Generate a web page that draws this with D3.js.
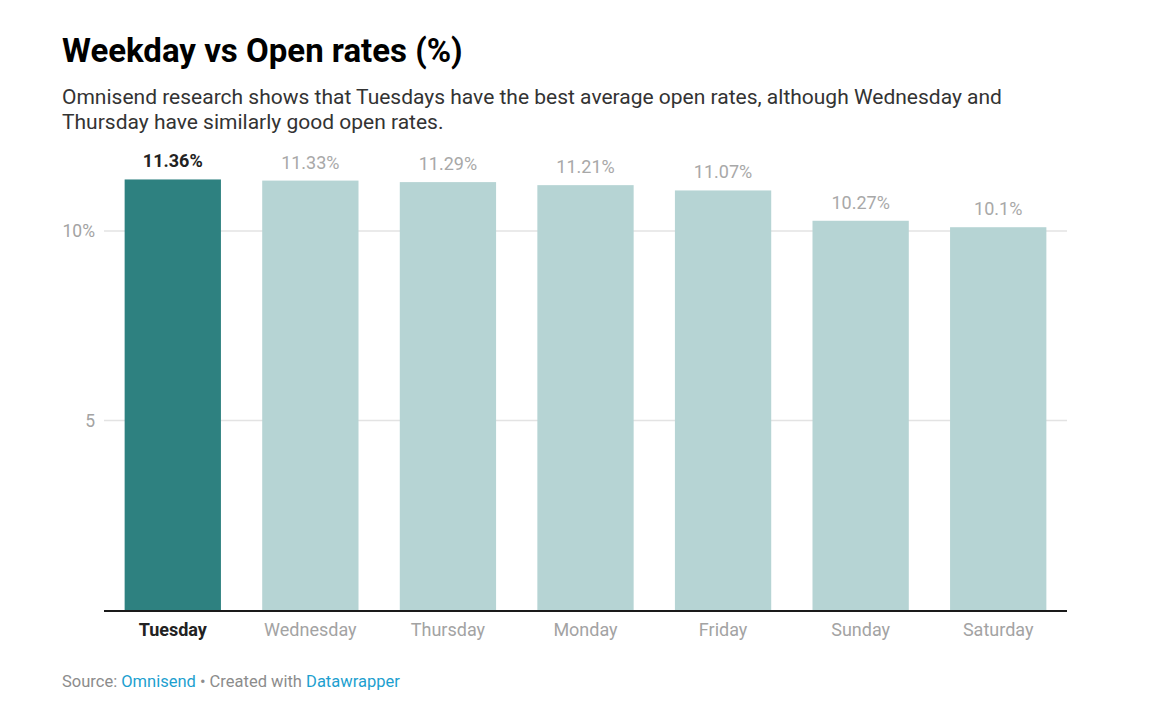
<!DOCTYPE html>
<html>
<head>
<meta charset="utf-8">
<script src="https://cdn.jsdelivr.net/npm/d3@7"></script>
<style>
  body { margin: 0; background: #fff; font-family: Roboto, "Noto Sans", sans-serif; }
</style>
</head>
<body>
<div id="chart"></div>
<script>
// data
const days = ["Tuesday", "Wednesday", "Thursday", "Monday", "Friday", "Sunday", "Saturday"];
const openRates = [11.36, 11.33, 11.29, 11.21, 11.07, 10.27, 10.1];
const highlight = "Tuesday";
const yTicks = [5, 10];

const width = 1149, height = 717;
const margin = { left: 104, right: 82, top: 231, bottom: 107 };

const svg = d3.select("#chart")
  .append("svg")
  .attr("width", width)
  .attr("height", height);

// header
svg.append("text")
  .attr("x", 62).attr("y", 62)
  .style("font-size", "33px").style("font-weight", 700).style("fill", "#000")
  .text("Weekday vs Open rates (%)");

const subLines = [
  "Omnisend research shows that Tuesdays have the best average open rates, although Wednesday and",
  "Thursday have similarly good open rates."
];
svg.append("g").selectAll("text")
  .data(subLines)
  .enter().append("text")
  .attr("x", 62)
  .attr("y", (d, i) => 104 + i * 25)
  .style("font-size", "21px").style("fill", "#333")
  .text(d => d);

// scales
const x = d3.scaleBand()
  .domain(days)
  .range([margin.left, width - margin.right])
  .paddingInner(0.3)
  .paddingOuter(0.15);

const y = d3.scaleLinear()
  .domain([0, 10])
  .range([height - margin.bottom, margin.top]);

// grid
svg.append("g").selectAll("line")
  .data(yTicks)
  .enter().append("line")
  .attr("x1", margin.left).attr("x2", width - margin.right)
  .attr("y1", d => y(d)).attr("y2", d => y(d))
  .style("stroke", "#e3e3e3").style("stroke-width", 1.5);

svg.append("g").selectAll("text")
  .data(yTicks)
  .enter().append("text")
  .attr("x", 95)
  .attr("y", d => y(d))
  .attr("dy", "0.35em")
  .attr("text-anchor", "end")
  .style("font-size", "17.5px").style("fill", "#a3a3a3")
  .text(d => d === 10 ? d + "%" : d);

const rows = days.map((d, i) => ({ day: d, value: openRates[i] }));

// bars
svg.append("g").selectAll("rect")
  .data(rows)
  .enter().append("rect")
  .attr("x", d => x(d.day))
  .attr("y", d => y(d.value))
  .attr("width", x.bandwidth())
  .attr("height", d => y(0) - y(d.value))
  .style("fill", d => d.day === highlight ? "#2e8180" : "#b6d4d4");

// value labels
svg.append("g").selectAll("text")
  .data(rows)
  .enter().append("text")
  .attr("x", d => x(d.day) + x.bandwidth() / 2)
  .attr("y", d => y(d.value) - 12)
  .attr("text-anchor", "middle")
  .style("font-size", "18px")
  .style("font-weight", d => d.day === highlight ? 700 : 400)
  .style("fill", d => d.day === highlight ? "#222" : "#a8a8a8")
  .text(d => d.value + "%");

// baseline
svg.append("line")
  .attr("x1", margin.left).attr("x2", width - margin.right)
  .attr("y1", y(0) + 1).attr("y2", y(0) + 1)
  .style("stroke", "#1a1a1a").style("stroke-width", 2);

// x axis labels
svg.append("g")
  .attr("transform", `translate(0,${y(0)})`)
  .call(d3.axisBottom(x).tickSize(0))
  .call(g => g.select(".domain").remove())
  .call(g => g.selectAll("text")
    .attr("y", 26)
    .attr("dy", 0)
    .style("font-family", "Roboto, sans-serif")
    .style("font-size", "18px")
    .style("font-weight", d => d === highlight ? 700 : 400)
    .style("fill", d => d === highlight ? "#222" : "#a3a3a3"));

// footer
const foot = svg.append("text")
  .attr("x", 62).attr("y", 687)
  .style("font-size", "16.5px").style("fill", "#8c8c8c");
foot.append("tspan").text("Source: ");
foot.append("tspan").style("fill", "#1d9fcf").text("Omnisend");
foot.append("tspan").text(" • Created with ");
foot.append("tspan").style("fill", "#1d9fcf").text("Datawrapper");
</script>
</body>
</html>
